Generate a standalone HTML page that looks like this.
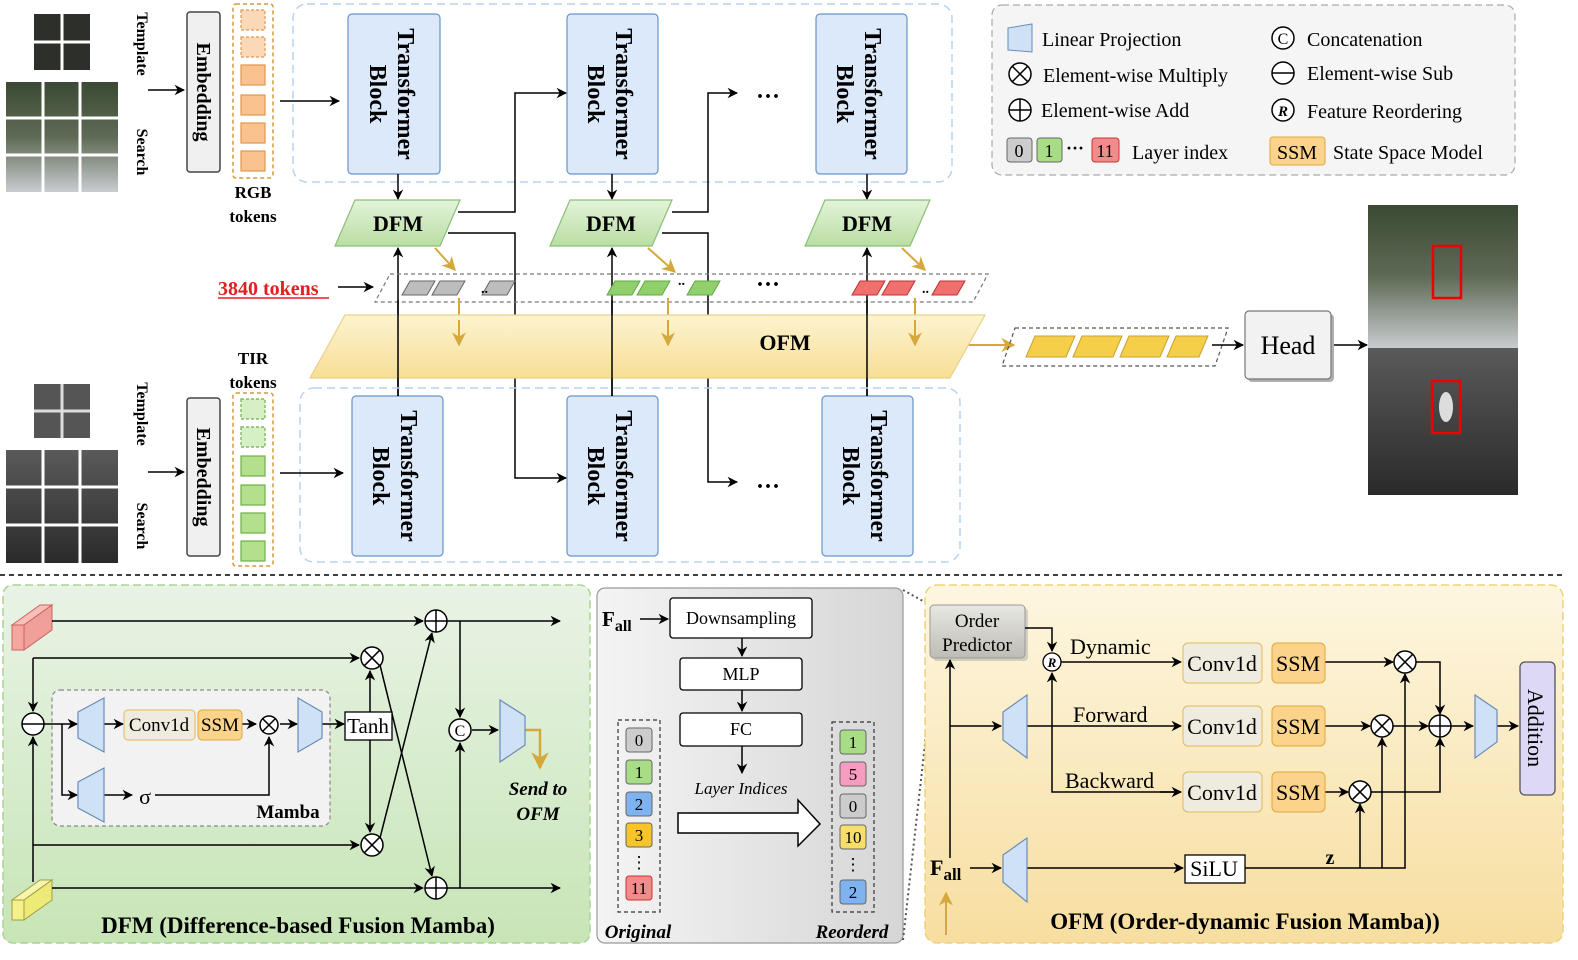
<!DOCTYPE html>
<html><head><meta charset="utf-8"><style>
html,body{margin:0;padding:0;background:#fff;}
svg{display:block;font-family:"Liberation Serif",serif;}
</style></head><body>
<svg width="1578" height="960" viewBox="0 0 1578 960" xmlns="http://www.w3.org/2000/svg">
<defs>
<marker id="ar" viewBox="0 0 10 10" refX="9" refY="5" markerWidth="7" markerHeight="7" orient="auto"><path d="M0,0L10,5L0,10L3,5z" fill="#000"/></marker>
<marker id="ag" viewBox="0 0 10 10" refX="9" refY="5" markerWidth="7" markerHeight="7" orient="auto"><path d="M0,0L10,5L0,10L3,5z" fill="#d4a83a"/></marker>
<g id="mul"><circle r="11" fill="#fff" stroke="#000" stroke-width="1.5"/><path d="M-7.8,-7.8L7.8,7.8M-7.8,7.8L7.8,-7.8" stroke="#000" stroke-width="1.5"/></g>
<g id="mulS"><circle r="9" fill="#fff" stroke="#000" stroke-width="1.5"/><path d="M-6.4,-6.4L6.4,6.4M-6.4,6.4L6.4,-6.4" stroke="#000" stroke-width="1.5"/></g>
<g id="add"><circle r="11" fill="#fff" stroke="#000" stroke-width="1.5"/><path d="M-11,0H11M0,-11V11" stroke="#000" stroke-width="1.5"/></g>
<g id="sub"><circle r="11" fill="#fff" stroke="#000" stroke-width="1.5"/><path d="M-11,0H11" stroke="#000" stroke-width="1.5"/></g>
<linearGradient id="gdfm" x1="0" y1="0" x2="0" y2="1"><stop offset="0" stop-color="#e4f3da"/><stop offset="1" stop-color="#b9dea2"/></linearGradient>
<linearGradient id="gofm" x1="0" y1="0" x2="0" y2="1"><stop offset="0" stop-color="#fdf3d0"/><stop offset="1" stop-color="#f6df95"/></linearGradient>
<linearGradient id="gpan1" x1="0" y1="0" x2="0" y2="1"><stop offset="0" stop-color="#e9f3e6"/><stop offset="1" stop-color="#c7e5b6"/></linearGradient>
<linearGradient id="gpan2" x1="0" y1="0" x2="1" y2="0"><stop offset="0" stop-color="#f4f4f4"/><stop offset="1" stop-color="#d6d6d6"/></linearGradient>
<linearGradient id="gpan3" x1="0" y1="0" x2="0" y2="1"><stop offset="0" stop-color="#fdf6e0"/><stop offset="1" stop-color="#f7dea0"/></linearGradient>
<linearGradient id="gimg" x1="0" y1="0" x2="0" y2="1"><stop offset="0" stop-color="#3b4a34"/><stop offset="0.5" stop-color="#5e6a55"/><stop offset="1" stop-color="#c9ccd0"/></linearGradient>
<linearGradient id="gtir" x1="0" y1="0" x2="0" y2="1"><stop offset="0" stop-color="#5a5a5a"/><stop offset="1" stop-color="#2a2a2a"/></linearGradient>
<linearGradient id="gop" x1="0" y1="0" x2="0" y2="1"><stop offset="0" stop-color="#e8e8e3"/><stop offset="1" stop-color="#bdbdb5"/></linearGradient>
</defs>

<!-- ===== TOP: RGB images ===== -->
<rect x="34" y="14" width="56" height="56" fill="#2c2f2a"/>
<path d="M62,14V70M34,42H90" stroke="#fff" stroke-width="3"/>
<rect x="6" y="82" width="112" height="110" fill="url(#gimg)"/>
<path d="M43,82V192M80,82V192M6,118H118M6,155H118" stroke="#fff" stroke-width="3"/>
<text transform="translate(137,44) rotate(90)" font-size="16" font-weight="bold" text-anchor="middle">Template</text>
<text transform="translate(137,152) rotate(90)" font-size="16" font-weight="bold" text-anchor="middle">Search</text>
<line x1="148" y1="90" x2="184" y2="90" stroke="#000" stroke-width="1.5" marker-end="url(#ar)"/>
<rect x="187" y="12" width="33" height="160" rx="3" fill="#f0f0f0" stroke="#444" stroke-width="1.5"/>
<text transform="translate(197,92) rotate(90)" font-size="20" font-weight="bold" text-anchor="middle">Embedding</text>
<rect x="233" y="4" width="40" height="174" rx="3" fill="none" stroke="#d49a3a" stroke-width="1.5" stroke-dasharray="4,3"/>
<g stroke="#e09850" stroke-width="1.2">
<rect x="241" y="10" width="24" height="20" fill="#fbd9b8" stroke-dasharray="3,2"/>
<rect x="241" y="37" width="24" height="20" fill="#fbd9b8" stroke-dasharray="3,2"/>
<rect x="241" y="65" width="24" height="20" fill="#f9c28e"/>
<rect x="241" y="95" width="24" height="20" fill="#f9c28e"/>
<rect x="241" y="123" width="24" height="20" fill="#f9c28e"/>
<rect x="241" y="151" width="24" height="20" fill="#f9c28e"/>
</g>
<text x="253" y="198" font-size="17" font-weight="bold" text-anchor="middle">RGB</text>
<text x="253" y="222" font-size="17" font-weight="bold" text-anchor="middle">tokens</text>
<line x1="280" y1="101" x2="339" y2="101" stroke="#000" stroke-width="1.5" marker-end="url(#ar)"/>
<rect x="293" y="4" width="659" height="178" rx="14" fill="none" stroke="#b9d3ef" stroke-width="1.5" stroke-dasharray="8,5"/>

<!-- Transformer blocks -->
<g font-size="24" font-weight="bold">
<rect x="348" y="14" width="92" height="160" rx="4" fill="#dbe9fb" stroke="#6a93c8" stroke-width="1.2"/>
<text transform="translate(394,94) rotate(90)" text-anchor="middle"><tspan x="0" y="-4">Transformer</tspan><tspan x="0" y="24">Block</tspan></text>
<rect x="567" y="14" width="91" height="160" rx="4" fill="#dbe9fb" stroke="#6a93c8" stroke-width="1.2"/>
<text transform="translate(612,94) rotate(90)" text-anchor="middle"><tspan x="0" y="-4">Transformer</tspan><tspan x="0" y="24">Block</tspan></text>
<rect x="816" y="14" width="91" height="160" rx="4" fill="#dbe9fb" stroke="#6a93c8" stroke-width="1.2"/>
<text transform="translate(861,94) rotate(90)" text-anchor="middle"><tspan x="0" y="-4">Transformer</tspan><tspan x="0" y="24">Block</tspan></text>
<rect x="352" y="396" width="91" height="160" rx="4" fill="#dbe9fb" stroke="#6a93c8" stroke-width="1.2"/>
<text transform="translate(397,476) rotate(90)" text-anchor="middle"><tspan x="0" y="-4">Transformer</tspan><tspan x="0" y="24">Block</tspan></text>
<rect x="567" y="396" width="91" height="160" rx="4" fill="#dbe9fb" stroke="#6a93c8" stroke-width="1.2"/>
<text transform="translate(612,476) rotate(90)" text-anchor="middle"><tspan x="0" y="-4">Transformer</tspan><tspan x="0" y="24">Block</tspan></text>
<rect x="822" y="396" width="91" height="160" rx="4" fill="#dbe9fb" stroke="#6a93c8" stroke-width="1.2"/>
<text transform="translate(867,476) rotate(90)" text-anchor="middle"><tspan x="0" y="-4">Transformer</tspan><tspan x="0" y="24">Block</tspan></text>
</g>

<g stroke="#000" stroke-width="1.5" fill="none">
<line x1="398" y1="174" x2="398" y2="199" marker-end="url(#ar)"/>
<line x1="612" y1="174" x2="612" y2="199" marker-end="url(#ar)"/>
<line x1="867" y1="174" x2="867" y2="199" marker-end="url(#ar)"/>
<line x1="398" y1="396" x2="398" y2="248" marker-end="url(#ar)"/>
<line x1="612" y1="396" x2="612" y2="248" marker-end="url(#ar)"/>
<line x1="867" y1="396" x2="867" y2="248" marker-end="url(#ar)"/>
<polyline points="458,212 515,212 515,93 566,93" marker-end="url(#ar)"/>
<polyline points="448,233 515,233 515,478 566,478" marker-end="url(#ar)"/>
<polyline points="672,212 708,212 708,93 737,93" marker-end="url(#ar)"/>
<polyline points="662,233 708,233 708,482 737,482" marker-end="url(#ar)"/>
</g>
<g font-size="24" font-weight="bold" text-anchor="middle">
<text x="768" y="104">···</text><text x="768" y="494">···</text><text x="768" y="292">···</text>
</g>

<g stroke="#8bbf78" stroke-width="1.2" fill="url(#gdfm)">
<polygon points="355,200 460,200 440,246 335,246"/>
<polygon points="570,200 672,200 652,246 550,246"/>
<polygon points="825,200 930,200 910,246 805,246"/>
</g>
<g font-size="22" font-weight="bold" text-anchor="middle">
<text x="398" y="231">DFM</text><text x="611" y="231">DFM</text><text x="867" y="231">DFM</text>
</g>

<polygon points="390,274 988,274 973,302 375,302" fill="none" stroke="#777" stroke-width="1.2" stroke-dasharray="4,3"/>
<g stroke="#666" stroke-width="1" fill="#bdbdbd">
<polygon points="410,281 435,281 427,295 402,295"/><polygon points="440,281 465,281 457,295 432,295"/><polygon points="490,281 515,281 507,295 482,295"/>
</g>
<g stroke="#5fa844" stroke-width="1" fill="#8fd06a">
<polygon points="615,281 640,281 632,295 607,295"/><polygon points="645,281 670,281 662,295 637,295"/><polygon points="695,281 720,281 712,295 687,295"/>
</g>
<g stroke="#c03030" stroke-width="1" fill="#f07070">
<polygon points="860,281 885,281 877,295 852,295"/><polygon points="890,281 915,281 907,295 882,295"/><polygon points="940,281 965,281 957,295 932,295"/>
</g>
<text x="481" y="293" font-size="14" font-weight="bold">..</text>
<text x="678" y="285" font-size="14" font-weight="bold">..</text>
<text x="922" y="293" font-size="14" font-weight="bold">..</text>
<text x="218" y="295" font-size="20" font-weight="bold" fill="#e02020">3840 tokens</text>
<line x1="218" y1="298" x2="329" y2="298" stroke="#e02020" stroke-width="1.5"/>
<line x1="338" y1="287" x2="373" y2="287" stroke="#000" stroke-width="1.5" marker-end="url(#ar)"/>

<g stroke="#d4a83a" stroke-width="2" fill="none">
<line x1="435" y1="248" x2="455" y2="270" marker-end="url(#ag)"/>
<line x1="648" y1="248" x2="675" y2="272" marker-end="url(#ag)"/>
<line x1="902" y1="248" x2="925" y2="270" marker-end="url(#ag)"/>
<line x1="459" y1="298" x2="459" y2="345" marker-end="url(#ag)"/>
<line x1="668" y1="298" x2="668" y2="345" marker-end="url(#ag)"/>
<line x1="915" y1="298" x2="915" y2="345" marker-end="url(#ag)"/>
<line x1="965" y1="345" x2="1014" y2="345" marker-end="url(#ag)"/>
</g>

<polygon points="345,315 985,315 950,378 310,378" fill="url(#gofm)" stroke="#ead08a" stroke-width="1.2"/>
<text x="785" y="350" font-size="22" font-weight="bold" text-anchor="middle">OFM</text>
<g stroke="#000" stroke-width="1.5">
<line x1="398" y1="300" x2="398" y2="396"/><line x1="612" y1="300" x2="612" y2="396"/><line x1="867" y1="300" x2="867" y2="396"/>
</g>
<g stroke="#d4a83a" stroke-width="2" fill="none">
<line x1="459" y1="320" x2="459" y2="345" marker-end="url(#ag)"/>
<line x1="668" y1="320" x2="668" y2="345" marker-end="url(#ag)"/>
<line x1="915" y1="320" x2="915" y2="345" marker-end="url(#ag)"/>
</g>

<polygon points="1015,328 1228,328 1215,366 1002,366" fill="none" stroke="#555" stroke-width="1.2" stroke-dasharray="4,3"/>
<g stroke="#c9a030" stroke-width="1" fill="#f5cf4a">
<polygon points="1035,336 1075,336 1066,357 1026,357"/><polygon points="1082,336 1122,336 1113,357 1073,357"/>
<polygon points="1129,336 1169,336 1160,357 1120,357"/><polygon points="1176,336 1208,336 1199,357 1167,357"/>
</g>
<line x1="1212" y1="345" x2="1243" y2="345" stroke="#000" stroke-width="1.5" marker-end="url(#ar)"/>
<rect x="1248" y="314" width="86" height="68" rx="4" fill="#b0b0b0"/>
<rect x="1245" y="311" width="86" height="68" rx="4" fill="#f2f2f2" stroke="#777" stroke-width="1.2"/>
<text x="1288" y="354" font-size="26" text-anchor="middle">Head</text>
<line x1="1334" y1="345" x2="1367" y2="345" stroke="#000" stroke-width="1.5" marker-end="url(#ar)"/>
<rect x="1368" y="205" width="150" height="143" fill="url(#gimg)"/>
<rect x="1368" y="348" width="150" height="147" fill="url(#gtir)"/>
<rect x="1433" y="246" width="28" height="52" fill="none" stroke="#e00" stroke-width="2.5"/>
<rect x="1432" y="381" width="28" height="52" fill="none" stroke="#e00" stroke-width="2.5"/>
<ellipse cx="1446" cy="407" rx="7" ry="15" fill="#ddd"/>

<!-- TIR -->
<rect x="300" y="388" width="660" height="174" rx="14" fill="none" stroke="#b9d3ef" stroke-width="1.5" stroke-dasharray="8,5"/>
<rect x="34" y="384" width="56" height="54" fill="#555"/>
<path d="M62,384V438M34,411H90" stroke="#ddd" stroke-width="3"/>
<rect x="6" y="450" width="112" height="113" fill="url(#gtir)"/>
<path d="M43,450V563M80,450V563M6,487H118M6,525H118" stroke="#fff" stroke-width="3"/>
<text transform="translate(137,414) rotate(90)" font-size="16" font-weight="bold" text-anchor="middle">Template</text>
<text transform="translate(137,526) rotate(90)" font-size="16" font-weight="bold" text-anchor="middle">Search</text>
<line x1="148" y1="472" x2="184" y2="472" stroke="#000" stroke-width="1.5" marker-end="url(#ar)"/>
<rect x="187" y="398" width="33" height="158" rx="3" fill="#f0f0f0" stroke="#444" stroke-width="1.5"/>
<text transform="translate(197,477) rotate(90)" font-size="20" font-weight="bold" text-anchor="middle">Embedding</text>
<text x="253" y="364" font-size="17" font-weight="bold" text-anchor="middle">TIR</text>
<text x="253" y="388" font-size="17" font-weight="bold" text-anchor="middle">tokens</text>
<rect x="233" y="393" width="40" height="173" rx="3" fill="none" stroke="#d49a3a" stroke-width="1.5" stroke-dasharray="4,3"/>
<g stroke="#6fae4c" stroke-width="1.2">
<rect x="241" y="399" width="24" height="20" fill="#d6efc4" stroke-dasharray="3,2"/>
<rect x="241" y="427" width="24" height="20" fill="#d6efc4" stroke-dasharray="3,2"/>
<rect x="241" y="456" width="24" height="20" fill="#b4e08e"/>
<rect x="241" y="485" width="24" height="20" fill="#b4e08e"/>
<rect x="241" y="513" width="24" height="20" fill="#b4e08e"/>
<rect x="241" y="541" width="24" height="20" fill="#b4e08e"/>
</g>
<line x1="280" y1="473" x2="343" y2="473" stroke="#000" stroke-width="1.5" marker-end="url(#ar)"/>

<!-- Legend -->
<rect x="992" y="5" width="523" height="170" rx="10" fill="#f5f5f5" stroke="#aaa" stroke-width="1.2" stroke-dasharray="7,4"/>
<g font-size="20">
<polygon points="1008,28 1032,24 1032,52 1008,50" fill="#cfe2f5" stroke="#6a8cb8"/>
<text x="1042" y="46">Linear Projection</text>
<use href="#mul" x="1020" y="74"/><text x="1043" y="82">Element-wise Multiply</text>
<use href="#add" x="1020" y="110"/><text x="1041" y="117">Element-wise Add</text>
<rect x="1007" y="138" width="25" height="24" rx="3" fill="#ccc" stroke="#666"/><text x="1019" y="157" text-anchor="middle" font-size="18">0</text>
<rect x="1037" y="138" width="25" height="24" rx="3" fill="#a8dd86" stroke="#666"/><text x="1049" y="157" text-anchor="middle" font-size="18">1</text>
<text x="1066" y="154" font-size="18" font-weight="bold">···</text>
<rect x="1092" y="138" width="27" height="24" rx="3" fill="#f28b8b" stroke="#c33"/><text x="1105" y="157" text-anchor="middle" font-size="18">11</text>
<text x="1132" y="159">Layer index</text>
<circle cx="1283" cy="38" r="11" fill="#fff" stroke="#000" stroke-width="1.5"/><text x="1283" y="44" text-anchor="middle" font-size="16">C</text>
<text x="1307" y="46">Concatenation</text>
<use href="#sub" x="1283" y="73"/><text x="1307" y="80">Element-wise Sub</text>
<circle cx="1283" cy="110" r="11" fill="#fff" stroke="#000" stroke-width="1.5"/><text x="1283" y="116" text-anchor="middle" font-size="15" font-style="italic" font-weight="bold">R</text>
<text x="1307" y="118">Feature Reordering</text>
<rect x="1270" y="137" width="55" height="28" rx="3" fill="#fbd38a" stroke="#e0a840"/><text x="1297" y="159" text-anchor="middle">SSM</text>
<text x="1333" y="159">State Space Model</text>
</g>

<line x1="0" y1="575" x2="1565" y2="575" stroke="#000" stroke-width="1.5" stroke-dasharray="5,4"/>

<!-- DFM panel -->
<rect x="3" y="585" width="587" height="358" rx="10" fill="url(#gpan1)" stroke="#a9d494" stroke-width="1.5" stroke-dasharray="8,4"/>
<polygon points="12,625 40,605 52,605 24,625" fill="#f8c0ba" stroke="#d06060"/>
<polygon points="24,625 52,605 52,630 24,650" fill="#f0a09a" stroke="#d06060"/>
<rect x="12" y="625" width="12" height="25" fill="#f4a7a0" stroke="#d06060"/>
<polygon points="12,900 40,880 52,880 24,900" fill="#f8f5b0" stroke="#a0a040"/>
<polygon points="24,900 52,880 52,900 24,920" fill="#eeea78" stroke="#a0a040"/>
<rect x="12" y="900" width="12" height="20" fill="#f5f08a" stroke="#a0a040"/>
<rect x="52" y="690" width="278" height="136" rx="8" fill="#f2f2f2" stroke="#888" stroke-width="1.2" stroke-dasharray="4,3"/>
<g stroke="#000" stroke-width="1.5" fill="none">
<line x1="52" y1="621" x2="423" y2="621" marker-end="url(#ar)"/>
<line x1="447" y1="621" x2="560" y2="621" marker-end="url(#ar)"/>
<line x1="33" y1="658" x2="359" y2="658" marker-end="url(#ar)"/>
<line x1="33" y1="658" x2="33" y2="711" marker-end="url(#ar)"/>
<line x1="33" y1="882" x2="33" y2="737" marker-end="url(#ar)"/>
<line x1="33" y1="845" x2="359" y2="845" marker-end="url(#ar)"/>
<line x1="52" y1="888" x2="423" y2="888" marker-end="url(#ar)"/>
<line x1="447" y1="888" x2="560" y2="888" marker-end="url(#ar)"/>
<line x1="44" y1="724" x2="77" y2="724" marker-end="url(#ar)"/>
<polyline points="62,724 62,795 77,795" marker-end="url(#ar)"/>
<line x1="104" y1="724" x2="123" y2="724" marker-end="url(#ar)"/>
<line x1="242" y1="724" x2="256" y2="724" marker-end="url(#ar)"/>
<line x1="280" y1="724" x2="297" y2="724" marker-end="url(#ar)"/>
<line x1="322" y1="724" x2="344" y2="724" marker-end="url(#ar)"/>
<line x1="104" y1="795" x2="132" y2="795" marker-end="url(#ar)"/>
<polyline points="155,795 269,795 269,737" marker-end="url(#ar)"/>
<line x1="370" y1="712" x2="370" y2="671" marker-end="url(#ar)"/>
<line x1="370" y1="740" x2="370" y2="832" marker-end="url(#ar)"/>
<line x1="380" y1="665" x2="432" y2="876" marker-end="url(#ar)"/>
<line x1="380" y1="838" x2="432" y2="633" marker-end="url(#ar)"/>
<line x1="460" y1="621" x2="460" y2="717" marker-end="url(#ar)"/>
<line x1="460" y1="888" x2="460" y2="743" marker-end="url(#ar)"/>
<line x1="472" y1="730" x2="498" y2="730" marker-end="url(#ar)"/>
</g>
<polyline points="525,730 540,730 540,768" fill="none" stroke="#d4a83a" stroke-width="2.5" marker-end="url(#ag)"/>
<use href="#add" x="436" y="621"/><use href="#add" x="436" y="888"/>
<use href="#mul" x="372" y="658"/><use href="#mul" x="372" y="845"/>
<use href="#sub" x="33" y="724"/>
<use href="#mulS" x="269" y="725"/>
<circle cx="460" cy="730" r="11" fill="#fff" stroke="#000" stroke-width="1.5"/><text x="460" y="736" text-anchor="middle" font-size="16">C</text>
<g fill="#cfe2f5" stroke="#6a8cb8" stroke-width="1.2">
<polygon points="78,712 104,698 104,752 78,738"/>
<polygon points="78,782 104,768 104,822 78,808"/>
<polygon points="298,698 322,712 322,738 298,752"/>
<polygon points="500,700 525,716 525,745 500,762"/>
</g>
<rect x="124" y="710" width="71" height="30" rx="4" fill="#efecdf" stroke="#e0b860"/>
<text x="159" y="731" font-size="19" text-anchor="middle">Conv1d</text>
<rect x="198" y="710" width="44" height="30" rx="4" fill="#fbd38a" stroke="#e0a840"/>
<text x="220" y="731" font-size="19" text-anchor="middle">SSM</text>
<text x="145" y="804" font-size="22" text-anchor="middle">σ</text>
<text x="288" y="818" font-size="19" font-weight="bold" text-anchor="middle">Mamba</text>
<rect x="345" y="712" width="47" height="28" fill="#fff" stroke="#000" stroke-width="1.3"/>
<text x="368" y="733" font-size="21" text-anchor="middle">Tanh</text>
<text x="538" y="795" font-size="19" font-weight="bold" font-style="italic" text-anchor="middle">Send to</text>
<text x="538" y="820" font-size="19" font-weight="bold" font-style="italic" text-anchor="middle">OFM</text>
<text x="298" y="933" font-size="23" font-weight="bold" text-anchor="middle">DFM (Difference-based Fusion Mamba)</text>

<!-- middle panel -->
<rect x="597" y="588" width="306" height="355" rx="8" fill="url(#gpan2)" stroke="#999" stroke-width="1.2"/>
<text x="602" y="626" font-size="21" font-weight="bold">F<tspan font-size="16" dy="5">all</tspan></text>
<line x1="640" y1="619" x2="668" y2="619" stroke="#000" stroke-width="1.5" marker-end="url(#ar)"/>
<g fill="#fff" stroke="#000" stroke-width="1.3">
<rect x="670" y="598" width="142" height="40" rx="3"/>
<rect x="680" y="658" width="122" height="32" rx="3"/>
<rect x="680" y="713" width="122" height="33" rx="3"/>
</g>
<g font-size="18" text-anchor="middle">
<text x="741" y="624">Downsampling</text><text x="741" y="680">MLP</text><text x="741" y="735">FC</text>
</g>
<g stroke="#000" stroke-width="1.5">
<line x1="742" y1="638" x2="742" y2="656" marker-end="url(#ar)"/>
<line x1="742" y1="690" x2="742" y2="711" marker-end="url(#ar)"/>
<line x1="742" y1="746" x2="742" y2="773" marker-end="url(#ar)"/>
</g>
<text x="741" y="794" font-size="17" font-style="italic" text-anchor="middle">Layer Indices</text>
<polygon points="678,813 798,813 798,800 820,824 798,846 798,833 678,833" fill="#fff" stroke="#000" stroke-width="1.5"/>
<rect x="618" y="720" width="42" height="192" fill="none" stroke="#333" stroke-width="1.2" stroke-dasharray="4,3"/>
<rect x="832" y="722" width="42" height="190" fill="none" stroke="#333" stroke-width="1.2" stroke-dasharray="4,3"/>
<g font-size="17" text-anchor="middle" stroke-width="1">
<rect x="626" y="728" width="26" height="24" rx="3" fill="#ccc" stroke="#666"/><text x="639" y="746">0</text>
<rect x="626" y="760" width="26" height="24" rx="3" fill="#a8dd86" stroke="#666"/><text x="639" y="778">1</text>
<rect x="626" y="792" width="26" height="24" rx="3" fill="#7fb3ef" stroke="#666"/><text x="639" y="810">2</text>
<rect x="626" y="823" width="26" height="24" rx="3" fill="#f7c52a" stroke="#666"/><text x="639" y="841">3</text>
<text x="639" y="868">⋮</text>
<rect x="626" y="876" width="26" height="24" rx="3" fill="#f28b8b" stroke="#c33"/><text x="639" y="894">11</text>
<rect x="840" y="730" width="26" height="24" rx="3" fill="#a8dd86" stroke="#666"/><text x="853" y="748">1</text>
<rect x="840" y="762" width="26" height="24" rx="3" fill="#f59cc0" stroke="#666"/><text x="853" y="780">5</text>
<rect x="840" y="794" width="26" height="24" rx="3" fill="#ccc" stroke="#666"/><text x="853" y="812">0</text>
<rect x="840" y="825" width="26" height="24" rx="3" fill="#f7dd6a" stroke="#666"/><text x="853" y="843">10</text>
<text x="853" y="870">⋮</text>
<rect x="840" y="880" width="26" height="24" rx="3" fill="#7fb3ef" stroke="#666"/><text x="853" y="898">2</text>
</g>
<text x="638" y="938" font-size="19" font-weight="bold" font-style="italic" text-anchor="middle">Original</text>
<text x="852" y="938" font-size="19" font-weight="bold" font-style="italic" text-anchor="middle">Reorderd</text>
<line x1="903" y1="590" x2="930" y2="605" stroke="#555" stroke-width="2" stroke-dasharray="2,3"/>
<line x1="903" y1="940" x2="935" y2="655" stroke="#555" stroke-width="2" stroke-dasharray="2,3"/>

<!-- OFM panel -->
<rect x="925" y="585" width="638" height="358" rx="12" fill="url(#gpan3)" stroke="#f0d27a" stroke-width="1.5" stroke-dasharray="8,4"/>
<rect x="933" y="608" width="95" height="53" rx="4" fill="#aaa" opacity="0.5"/>
<rect x="930" y="605" width="95" height="53" rx="4" fill="url(#gop)" stroke="#999"/>
<text x="977" y="627" font-size="19" text-anchor="middle">Order</text>
<text x="977" y="651" font-size="19" text-anchor="middle">Predictor</text>
<g stroke="#000" stroke-width="1.5" fill="none">
<polyline points="1025,628 1052,628 1052,651" marker-end="url(#ar)"/>
<line x1="950" y1="858" x2="950" y2="660" marker-end="url(#ar)"/>
<line x1="950" y1="726" x2="1001" y2="726" marker-end="url(#ar)"/>
<line x1="1061" y1="662" x2="1181" y2="662" marker-end="url(#ar)"/>
<line x1="1027" y1="726" x2="1181" y2="726" marker-end="url(#ar)"/>
<polyline points="1181,792 1052,792 1052,673" marker-end="url(#ar)"/>
<line x1="1160" y1="792" x2="1181" y2="792" marker-end="url(#ar)"/>
<line x1="1325" y1="662" x2="1393" y2="662" marker-end="url(#ar)"/>
<line x1="1325" y1="726" x2="1370" y2="726" marker-end="url(#ar)"/>
<line x1="1325" y1="792" x2="1348" y2="792" marker-end="url(#ar)"/>
<polyline points="1416,662 1440,662 1440,714" marker-end="url(#ar)"/>
<line x1="1393" y1="726" x2="1428" y2="726" marker-end="url(#ar)"/>
<polyline points="1371,792 1440,792 1440,738" marker-end="url(#ar)"/>
<line x1="1451" y1="726" x2="1473" y2="726" marker-end="url(#ar)"/>
<line x1="1497" y1="726" x2="1518" y2="726" marker-end="url(#ar)"/>
<line x1="970" y1="868" x2="1001" y2="868" marker-end="url(#ar)"/>
<line x1="1027" y1="868" x2="1183" y2="868" marker-end="url(#ar)"/>
<polyline points="1245,868 1405,868 1405,674" marker-end="url(#ar)"/>
<line x1="1382" y1="868" x2="1382" y2="738" marker-end="url(#ar)"/>
<line x1="1360" y1="868" x2="1360" y2="804" marker-end="url(#ar)"/>
</g>
<line x1="946" y1="935" x2="946" y2="893" stroke="#d4a83a" stroke-width="2" marker-end="url(#ag)"/>
<circle cx="1052" cy="662" r="9" fill="#fff" stroke="#000" stroke-width="1.3"/>
<text x="1052" y="667" font-size="13" font-weight="bold" font-style="italic" text-anchor="middle">R</text>
<g font-size="22">
<text x="1070" y="654">Dynamic</text><text x="1073" y="722">Forward</text><text x="1065" y="788">Backward</text>
</g>
<g font-size="22" text-anchor="middle">
<rect x="1183" y="643" width="79" height="40" rx="5" fill="#efecdf" stroke="#e0b860"/><text x="1222" y="671">Conv1d</text>
<rect x="1272" y="643" width="53" height="40" rx="5" fill="#fbd38a" stroke="#e0a840"/><text x="1298" y="671">SSM</text>
<rect x="1183" y="706" width="79" height="40" rx="5" fill="#efecdf" stroke="#e0b860"/><text x="1222" y="734">Conv1d</text>
<rect x="1272" y="706" width="53" height="40" rx="5" fill="#fbd38a" stroke="#e0a840"/><text x="1298" y="734">SSM</text>
<rect x="1183" y="772" width="79" height="40" rx="5" fill="#efecdf" stroke="#e0b860"/><text x="1222" y="800">Conv1d</text>
<rect x="1272" y="772" width="53" height="40" rx="5" fill="#fbd38a" stroke="#e0a840"/><text x="1298" y="800">SSM</text>
<rect x="1185" y="855" width="60" height="28" fill="#fff" stroke="#000" stroke-width="1.3"/><text x="1214" y="876">SiLU</text>
</g>
<use href="#mul" x="1405" y="662"/><use href="#mul" x="1382" y="726"/><use href="#mul" x="1360" y="792"/>
<use href="#add" x="1440" y="726"/>
<text x="1330" y="864" font-size="20" font-weight="bold" text-anchor="middle">z</text>
<text x="930" y="875" font-size="22" font-weight="bold">F<tspan font-size="17" dy="5">all</tspan></text>
<g fill="#cfe2f5" stroke="#6a8cb8" stroke-width="1.2">
<polygon points="1003,712 1027,695 1027,758 1003,740"/>
<polygon points="1003,855 1027,838 1027,902 1003,882"/>
<polygon points="1475,695 1497,710 1497,742 1475,758"/>
</g>
<rect x="1520" y="662" width="35" height="133" rx="5" fill="#dcd8f5" stroke="#555" stroke-width="1.3"/>
<text transform="translate(1528,728) rotate(90)" font-size="22" text-anchor="middle">Addition</text>
<text x="1245" y="929" font-size="23" font-weight="bold" text-anchor="middle">OFM (Order-dynamic Fusion Mamba))</text>
</svg>
</body></html>
